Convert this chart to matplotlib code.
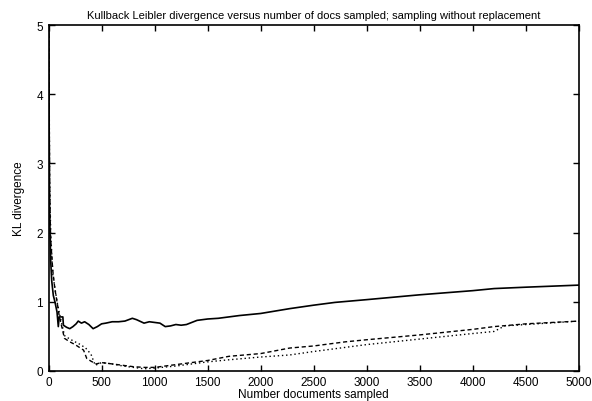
import matplotlib
matplotlib.use("Agg")
from matplotlib import pyplot as plt

plt.rcParams['font.family'] = ['Liberation Sans', 'DejaVu Sans']

# solid line
docs_a = [0, 5, 10, 20, 30, 45, 60, 80, 92, 100, 110, 135, 140, 170, 200, 230, 260, 280,
          310, 340, 380, 420, 460, 500, 540, 600, 660, 720, 790, 830, 900, 950, 1000,
          1050, 1100, 1150, 1200, 1250, 1300, 1350, 1400, 1500, 1600, 1700, 1800,
          2000, 2274, 2500, 2700, 3000, 3500, 4000, 4200, 4500, 5000]
kl_a = [5.5, 3.7, 2.3, 1.6, 1.3, 1.09, 1.0, 0.85, 0.64, 0.78, 0.78, 0.78, 0.66, 0.63, 0.61,
        0.64, 0.68, 0.72, 0.69, 0.71, 0.67, 0.61, 0.64, 0.68, 0.69, 0.71, 0.71, 0.72,
        0.76, 0.74, 0.69, 0.71, 0.70, 0.69, 0.64, 0.65, 0.67, 0.66, 0.67, 0.70, 0.73,
        0.75, 0.76, 0.78, 0.80, 0.83, 0.90, 0.95, 0.99, 1.03, 1.10, 1.16, 1.19, 1.21,
        1.24]

# dashed line
docs_b = [0, 10, 20, 40, 60, 80, 100, 150, 200, 250, 300, 330, 360, 400, 450, 500,
          600, 700, 800, 900, 1000, 1200, 1500, 1700, 2000, 2274, 2500, 2800, 3000,
          3500, 4000, 4200, 4500, 5000]
kl_b = [6.0, 2.6, 1.9, 1.45, 1.18, 1.0, 0.8, 0.47, 0.42, 0.38, 0.33, 0.30, 0.18, 0.14,
        0.10, 0.12, 0.10, 0.08, 0.06, 0.05, 0.05, 0.09, 0.15, 0.21, 0.25, 0.33, 0.36,
        0.42, 0.45, 0.52, 0.60, 0.64, 0.68, 0.72]

# dotted line
docs_c = [0, 10, 20, 40, 60, 80, 100, 150, 200, 250, 300, 350, 400, 440, 500, 600,
          700, 800, 900, 1000, 1200, 1500, 1700, 2000, 2274, 2500, 3000, 3500, 4000,
          4200, 4300, 4500, 5000]
kl_c = [6.0, 2.8, 2.0, 1.4, 1.2, 1.0, 0.85, 0.51, 0.46, 0.42, 0.38, 0.33, 0.24, 0.08,
        0.12, 0.10, 0.07, 0.05, 0.03, 0.04, 0.07, 0.13, 0.16, 0.20, 0.23, 0.28, 0.38,
        0.46, 0.54, 0.57, 0.65, 0.67, 0.72]

xticks = [0, 500, 1000, 1500, 2000, 2500, 3000, 3500, 4000, 4500, 5000]
yticks = [0, 1, 2, 3, 4, 5]

fig = plt.figure(figsize=(5.92, 4.02), dpi=100)
ax = fig.add_axes([0.082, 0.075, 0.896, 0.86])

ax.plot(docs_a, kl_a, color='black', lw=1.2)
ax.plot(docs_b, kl_b, color='black', lw=1.0, dashes=(3, 2))
ax.plot(docs_c, kl_c, color='black', lw=1.0, dashes=(1, 2))

ax.set_xlim(0, 5000)
ax.set_ylim(0, 5)
ax.set_xticks(xticks)
ax.set_yticks(yticks)
ax.tick_params(direction='in', length=4, width=1, labelsize=8.5, top=True, right=True,
               pad=4)
for s in ax.spines.values():
    s.set_linewidth(1.2)

ax.set_title('Kullback Leibler divergence versus number of docs sampled; sampling without replacement',
             fontsize=8, pad=5)
ax.set_xlabel('Number documents sampled', fontsize=8.5, labelpad=0)
ax.set_ylabel('KL divergence', fontsize=8.5, labelpad=8)

fig.savefig('out.png', dpi=100)
